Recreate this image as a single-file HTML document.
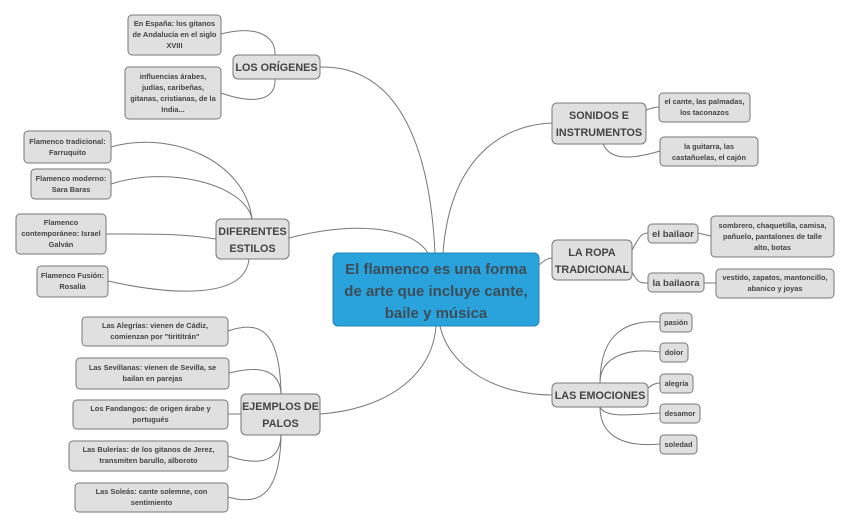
<!DOCTYPE html>
<html><head><meta charset="utf-8"><style>
html,body{margin:0;padding:0;background:#fff;width:850px;height:528px;overflow:hidden}
svg{display:block}
text{font-family:"Liberation Sans","DejaVu Sans",sans-serif;font-weight:bold;fill:#444;text-anchor:middle}
.n{fill:#e0e0e0;stroke:#777;stroke-width:1}
.c{fill:none;stroke:#777;stroke-width:1}
.s{font-size:7.4px}
.m{font-size:10.8px}
</style></head><body>
<svg width="850" height="528" viewBox="0 0 850 528">
<path class="c" d="M435,253 C430,150 400,65 320,67"/>
<path class="c" d="M428,253 C410,225 350,222 289,238"/>
<path class="c" d="M436,326 C432,380 380,410 320,414"/>
<path class="c" d="M443,253 C450,160 500,125 552,123"/>
<path class="c" d="M539,265 C545,260 548,258 552,258"/>
<path class="c" d="M440,326 C450,370 500,395 552,395"/>
<path class="c" d="M275,55 C276,35 255,25 221,34"/>
<path class="c" d="M275,79 C276,100 255,105 221,93"/>
<path class="c" d="M252,219 C245,160 170,130 111,147"/>
<path class="c" d="M252,219 C245,185 170,165 111,184"/>
<path class="c" d="M216,239 C180,233 140,234 106,234"/>
<path class="c" d="M249,259 C245,300 170,295 108,281"/>
<path class="c" d="M281,394 C280,330 260,320 228,331"/>
<path class="c" d="M281,394 C280,370 260,365 229,373"/>
<path class="c" d="M241,414 L228,414"/>
<path class="c" d="M281,435 C280,465 255,465 228,456"/>
<path class="c" d="M281,435 C280,500 255,505 228,497"/>
<path class="c" d="M646,110 C652,108 655,107 659,107"/>
<path class="c" d="M603,144 C610,160 630,160 660,151"/>
<path class="c" d="M632,250 C638,240 640,233 648,233"/>
<path class="c" d="M632,272 C638,283 640,283 648,283"/>
<path class="c" d="M698,233 L711,236"/>
<path class="c" d="M704,283 L716,283"/>
<path class="c" d="M600,383 C600,330 630,320 660,322"/>
<path class="c" d="M600,383 C600,355 630,348 660,352"/>
<path class="c" d="M648,388 C652,385 655,383 660,383"/>
<path class="c" d="M600,407 C605,418 630,415 660,413"/>
<path class="c" d="M600,407 C600,440 630,447 660,444"/>

<rect x="333" y="253" width="206" height="73" rx="5" fill="#2aa3dc" stroke="#2185b5"/>
<text x="436" y="274" style="font-size:15px;fill:#3d4d58">El flamenco es una forma</text>
<text x="436" y="296" style="font-size:15px;fill:#3d4d58">de arte que incluye cante,</text>
<text x="436" y="318" style="font-size:15px;fill:#3d4d58">baile y música</text>

<rect class="n" x="233" y="55" width="87" height="24" rx="5"/>
<text class="m" x="276.5" y="71">LOS ORÍGENES</text>
<rect class="n" x="216" y="219" width="73" height="40" rx="5"/>
<text class="m" x="252.5" y="235">DIFERENTES</text><text class="m" x="252.5" y="252">ESTILOS</text>
<rect class="n" x="241" y="394" width="79" height="41" rx="5"/>
<text class="m" x="280.5" y="410">EJEMPLOS DE</text><text class="m" x="280.5" y="427">PALOS</text>
<rect class="n" x="552" y="103" width="94" height="41" rx="5"/>
<text class="m" x="599" y="119">SONIDOS E</text><text class="m" x="599" y="136">INSTRUMENTOS</text>
<rect class="n" x="552" y="240" width="80" height="40" rx="5"/>
<text class="m" x="592" y="256">LA ROPA</text><text class="m" x="592" y="273">TRADICIONAL</text>
<rect class="n" x="552" y="383" width="96" height="24" rx="5"/>
<text class="m" x="600" y="399">LAS EMOCIONES</text>

<rect class="n" x="128" y="15" width="93" height="40" rx="4"/>
<text class="s" x="174.5" y="26">En España: los gitanos</text><text class="s" x="174.5" y="37">de Andalucía en el siglo</text><text class="s" x="174.5" y="48">XVIII</text>
<rect class="n" x="125" y="67" width="96" height="52" rx="4"/>
<text class="s" x="173" y="79">influencias árabes,</text><text class="s" x="173" y="90">judías, caribeñas,</text><text class="s" x="173" y="101">gitanas, cristianas, de la</text><text class="s" x="173" y="112">India...</text>

<rect class="n" x="24" y="131" width="87" height="32" rx="4"/>
<text class="s" x="67.5" y="144">Flamenco tradicional:</text><text class="s" x="67.5" y="155">Farruquito</text>
<rect class="n" x="31" y="169" width="80" height="30" rx="4"/>
<text class="s" x="71" y="181">Flamenco moderno:</text><text class="s" x="71" y="192">Sara Baras</text>
<rect class="n" x="16" y="214" width="90" height="40" rx="4"/>
<text class="s" x="61" y="225">Flamenco</text><text class="s" x="61" y="236">contemporáneo: Israel</text><text class="s" x="61" y="247">Galván</text>
<rect class="n" x="37" y="266" width="71" height="31" rx="4"/>
<text class="s" x="72.5" y="278">Flamenco Fusión:</text><text class="s" x="72.5" y="289">Rosalía</text>

<rect class="n" x="82" y="317" width="146" height="29" rx="4"/>
<text class="s" x="155" y="328">Las Alegrías: vienen de Cádiz,</text><text class="s" x="155" y="339">comienzan por "tiritítrán"</text>
<rect class="n" x="76" y="358" width="153" height="31" rx="4"/>
<text class="s" x="152.5" y="370">Las Sevillanas: vienen de Sevilla, se</text><text class="s" x="152.5" y="381">bailan en parejas</text>
<rect class="n" x="73" y="400" width="155" height="29" rx="4"/>
<text class="s" x="150.5" y="411">Los Fandangos: de origen árabe y</text><text class="s" x="150.5" y="422">portugués</text>
<rect class="n" x="69" y="441" width="159" height="30" rx="4"/>
<text class="s" x="148.5" y="452">Las Bulerías: de los gitanos de Jerez,</text><text class="s" x="148.5" y="463">transmiten barullo, alboroto</text>
<rect class="n" x="75" y="483" width="153" height="29" rx="4"/>
<text class="s" x="151.5" y="494">Las Soleás: cante solemne, con</text><text class="s" x="151.5" y="505">sentimiento</text>

<rect class="n" x="659" y="93" width="91" height="29" rx="4"/>
<text class="s" x="704.5" y="104">el cante, las palmadas,</text><text class="s" x="704.5" y="115">los taconazos</text>
<rect class="n" x="660" y="137" width="98" height="29" rx="4"/>
<text class="s" x="709" y="149">la guitarra, las</text><text class="s" x="709" y="160">castañuelas, el cajón</text>

<rect class="n" x="648" y="224" width="50" height="19" rx="4"/>
<text x="673" y="237" style="font-size:9.5px">el bailaor</text>
<rect class="n" x="648" y="273" width="56" height="19" rx="4"/>
<text x="676" y="286" style="font-size:9.5px">la bailaora</text>
<rect class="n" x="711" y="216" width="123" height="41" rx="4"/>
<text class="s" x="772.5" y="228">sombrero, chaquetilla, camisa,</text><text class="s" x="772.5" y="239">pañuelo, pantalones de talle</text><text class="s" x="772.5" y="250">alto, botas</text>
<rect class="n" x="716" y="269" width="118" height="29" rx="4"/>
<text class="s" x="775" y="280">vestido, zapatos, mantoncillo,</text><text class="s" x="775" y="291">abanico y joyas</text>

<rect class="n" x="660" y="313" width="32" height="19" rx="4"/><text class="s" x="676" y="325">pasión</text>
<rect class="n" x="660" y="343" width="28" height="19" rx="4"/><text class="s" x="674" y="355">dolor</text>
<rect class="n" x="660" y="374" width="33" height="19" rx="4"/><text class="s" x="676.5" y="386">alegría</text>
<rect class="n" x="660" y="404" width="40" height="19" rx="4"/><text class="s" x="680" y="416">desamor</text>
<rect class="n" x="660" y="435" width="37" height="19" rx="4"/><text class="s" x="678.5" y="447">soledad</text>
</svg>
</body></html>
